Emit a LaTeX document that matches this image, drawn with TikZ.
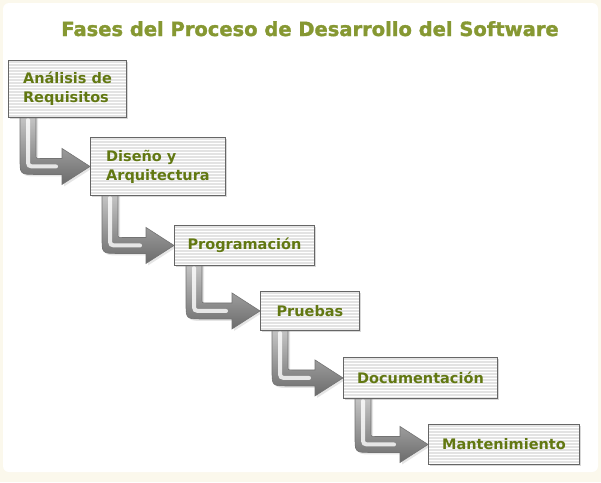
\documentclass[tikz,border=0pt]{standalone}
\usepackage{fontspec}
\setmainfont{DejaVu Sans}
\newfontfamily\titlefont{DejaVu Sans Bold}[FakeBold=1.6]
\usepackage{tikz}
\usetikzlibrary{calc,shadows}
\definecolor{titleolive}{RGB}{134,152,50}
\definecolor{textolive}{RGB}{98,120,18}
\definecolor{paper}{RGB}{251,248,236}
\colorlet{boxedge}{black!60}
\colorlet{boxfill}{black!11}
\pgfdeclarelayer{back}
\pgfsetlayers{back,main}

\begin{document}
\begin{tikzpicture}[x=1pt,y=-1pt,
    phasebox/.style={draw=boxedge, line width=0.9pt, fill=boxfill, anchor=north west,
        align=left, inner sep=0pt, text=textolive,
        font=\bfseries\fontsize{14.5}{19}\selectfont,
        drop shadow={shadow xshift=2pt, shadow yshift=-2pt, opacity=0.3},
        path picture={\foreach \k in {1,...,22}{
            \draw[white, line width=0.9pt] ($(path picture bounding box.north west)+(0,3*\k)$)
                -- ($(path picture bounding box.north east)+(0,3*\k)$);}}},
    arrowbody/.style={top color=black!22, bottom color=black!58, draw=black!55, line width=0.6pt,
        drop shadow={shadow xshift=2pt, shadow yshift=-2pt, opacity=0.2}},
    arrowshine/.style={white, opacity=0.8, line width=4pt, line cap=round},
    titletext/.style={text=titleolive, anchor=base, font=\titlefont\fontsize{19.5}{22}\selectfont}]
    \useasboundingbox (0,0) rectangle (601,482);

    \node[titletext] (title) at (310,36) {Fases del Proceso de Desarrollo del Software};

    \node[phasebox, minimum width=118pt, minimum height=57pt] (analisis) at (8,60) {Análisis de\\Requisitos};
    \node[phasebox, minimum width=135pt, minimum height=58pt] (diseno) at (90,137) {Diseño y\\Arquitectura};
    \node[phasebox, minimum width=140pt, minimum height=40pt] (programacion) at (174,225) {Programación};
    \node[phasebox, minimum width=99pt, minimum height=39pt] (pruebas) at (260,291) {Pruebas};
    \node[phasebox, minimum width=154pt, minimum height=41pt] (documentacion) at (343,357) {Documentación};
    \node[phasebox, minimum width=151pt, minimum height=40pt] (mantenimiento) at (428,424) {Mantenimiento};

    \begin{pgfonlayer}{back}
        \fill[paper] (0,0) rectangle (601,482);
        \fill[white, rounded corners=6pt] (3,3) rectangle (598,472);
        \foreach \a/\b in {analisis/diseno, diseno/programacion, programacion/pruebas,
                pruebas/documentacion, documentacion/mantenimiento}{
            \coordinate (k) at (\a.south west |- \b.west);
            \shadedraw[arrowbody] ($(\a.south west)+(12,-3)$) -- ($(k)+(12,-8)$)
                .. controls ($(k)+(12,8)$) .. ($(k)+(28,8)$) -- ($(\b.west)+(-28,8)$)
                -- ($(\b.west)+(-28,18)$) -- (\b.west) -- ($(\b.west)+(-28,-18)$)
                -- ($(\b.west)+(-28,-8)$) -- ($(k)+(32,-8)$)
                .. controls ($(k)+(28,-8)$) .. ($(k)+(28,-12)$) -- ($(\a.south west)+(28,-3)$) -- cycle;
            \draw[arrowshine] ($(\a.south west)+(20,2)$) -- ($(k)+(20,-8)$)
                .. controls ($(k)+(20,0)$) .. ($(k)+(28,0)$) -- ($(\b.west)+(-34,0)$);
        }
    \end{pgfonlayer}
\end{tikzpicture}
\end{document}
